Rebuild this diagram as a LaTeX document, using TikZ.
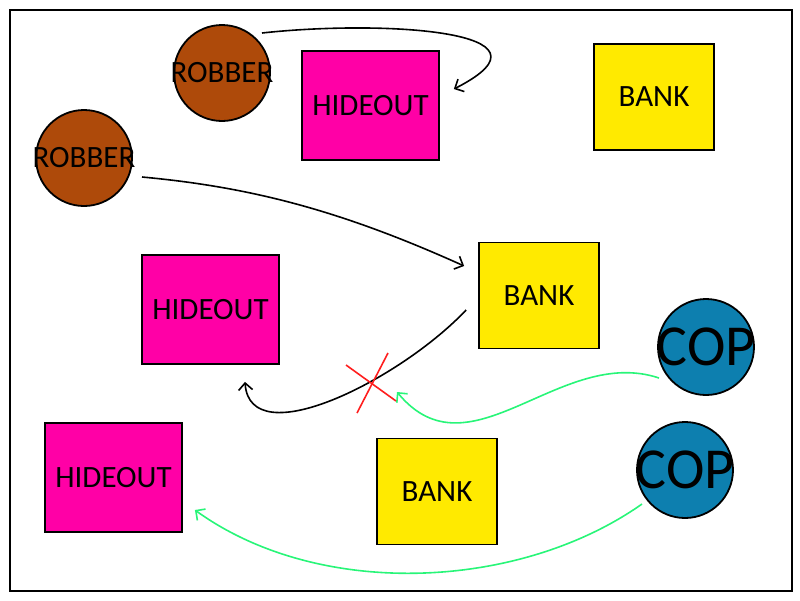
\documentclass[tikz,border=0pt]{standalone}
\usepackage{fontspec}
\setmainfont{Carlito}
\usetikzlibrary{arrows.meta}
\definecolor{robbercol}{RGB}{174,74,10}
\definecolor{hideoutcol}{RGB}{255,0,166}
\definecolor{bankcol}{RGB}{255,234,0}
\definecolor{copcol}{RGB}{13,127,175}
\definecolor{chasecol}{RGB}{40,245,120}
\definecolor{cutcol}{RGB}{255,30,30}
\begin{document}
\begin{tikzpicture}[x=1pt,y=-1pt,line width=1.8pt,
  robber/.style={draw,circle,fill=robbercol,minimum size=96pt,inner sep=0pt,font=\fontsize{31}{35}\selectfont},
  hideout/.style={draw,rectangle,fill=hideoutcol,minimum width=137pt,minimum height=109pt,font=\fontsize{31}{35}\selectfont},
  bank/.style={draw,rectangle,fill=bankcol,minimum width=120pt,minimum height=106pt,font=\fontsize{31}{35}\selectfont},
  cop/.style={draw,circle,fill=copcol,minimum size=96pt,inner sep=0pt,font=\fontsize{58}{62}\selectfont},
  chase/.style={chasecol,line width=1.6pt,-{Straight Barb[length=7pt,width=14pt]}},
  move/.style={black,line width=1.6pt,-{Straight Barb[length=7pt,width=14pt]}}]
\useasboundingbox (0,0) rectangle (800,600);
\draw[line width=1.5pt] (10,10) rectangle (792,591);
\node[robber] (R1) at (222,73) {\makebox[0pt]{ROBBER}};
\node[robber] (R2) at (84,158) {\makebox[0pt]{ROBBER}};
\node[hideout] (H1) at (370.5,105.5) {HIDEOUT};
\node[hideout] (H2) at (210.5,309.5) {HIDEOUT};
\node[hideout] (H3) at (113.5,477.5) {HIDEOUT};
\node[bank] (B1) at (654,97) {BANK};
\node[bank] (B2) at (539,295.5) {BANK};
\node[bank] (B3) at (437,491.5) {BANK};
\node[cop] (C1) at (706,347) {\makebox[0pt]{COP}};
\node[cop] (C2) at (685,470) {\makebox[0pt]{COP}};
\coordinate (X) at (372,384);
\draw[move] ([shift={(40,-40)}]R1.center) .. controls (380,20) and (570,30) .. ([shift={(14,-16.5)}]H1.east);
\draw[move] ([shift={(58,19)}]R2.center) .. controls (250,187) and (340,210) .. ([shift={(-14,-29.5)}]B2.west);
\draw[move] ([shift={(-12,14.5)}]B2.west) .. controls (400,380) and (250,455) .. ([shift={(34.5,17)}]H2.south);
\draw[chase] ([shift={(-47,31)}]C1.center) .. controls (560,345) and (470,480) .. ([shift={(25,8)}]X);
\draw[chase] ([shift={(-43,34)}]C2.center) .. controls (520,590) and (320,600) .. ([shift={(12,32.5)}]H3.east);
\draw[cutcol,line width=1.6pt] ([shift={(-26,-19)}]X) -- ([shift={(24,17)}]X);
\draw[cutcol,line width=1.6pt] ([shift={(16,-31)}]X) -- ([shift={(-15,29)}]X);
\end{tikzpicture}
\end{document}
